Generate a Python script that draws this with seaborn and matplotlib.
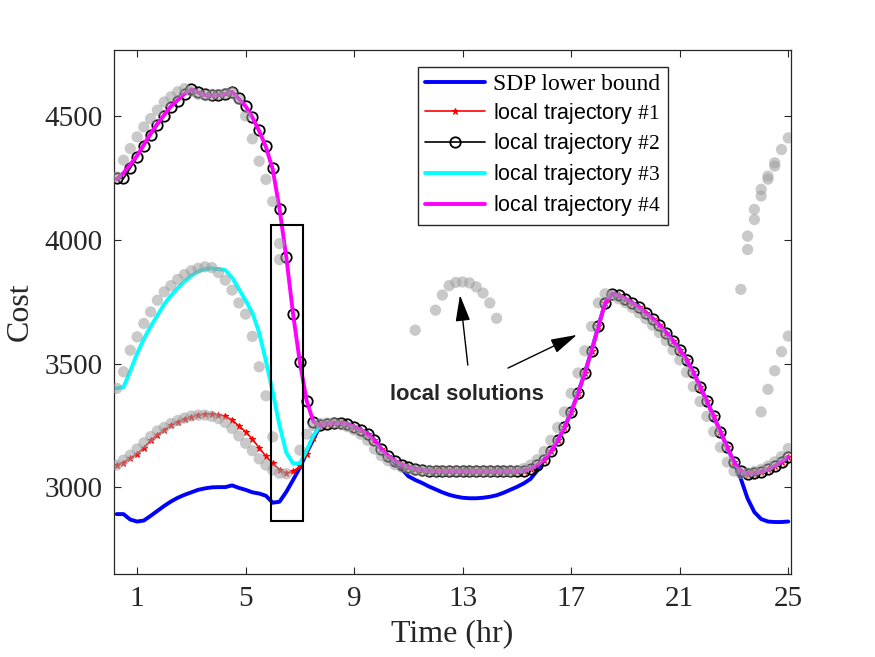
import numpy as np
import pandas as pd
import matplotlib
matplotlib.use("Agg")
import matplotlib.pyplot as plt
import seaborn as sns
from matplotlib.patches import Rectangle

# ---------------- data ----------------
time_hr = np.arange(1, 101) * 0.25          # 0.25 ... 25 hr

sdp_lower = [2892, 2892, 2870, 2862,  2866, 2885, 2905, 2925,  2943, 2958, 2970, 2980,
             2990, 2996, 3000, 3001,  3001, 3008, 2998, 2990,  2980, 2975, 2966, 2938,
             2942, 2982, 3030, 3080,  3140, 3195, 3250, 3258,  3260, 3260, 3255, 3245,
             3232, 3215, 3190, 3155,  3125, 3100, 3075, 3045,  3030, 3018, 3004, 2992,
             2980, 2970, 2963, 2958,  2956, 2956, 2958, 2962,  2968, 2978, 2990, 3002,
             3016, 3034, 3068, 3110,  3145, 3190, 3242, 3305,  3380, 3462, 3552, 3650,
             3745, 3782, 3776, 3762,  3746, 3727, 3705, 3681,  3655, 3625, 3592, 3555,
             3515, 3465, 3407, 3347,  3287, 3225, 3162, 3102,  3035, 2955, 2900, 2872,
             2862, 2860, 2860, 2862]

# shared part of all local trajectories (8.25 ... 25 hr)
common_tail = [3260, 3260, 3255, 3245,  3232, 3215, 3190, 3155,  3128, 3108, 3092, 3082,
               3075, 3070, 3067, 3066,  3065, 3065, 3065, 3065,  3065, 3065, 3065, 3065,
               3065, 3065, 3065, 3065,  3068, 3076, 3090, 3112,  3145, 3190, 3242, 3305,
               3380, 3462, 3552, 3650,  3745, 3782, 3776, 3762,  3746, 3727, 3705, 3681,
               3655, 3625, 3592, 3555,  3515, 3465, 3407, 3347,  3287, 3225, 3162, 3102,
               3066, 3056, 3058, 3064,  3073, 3086, 3103, 3124]

traj1_head = [3090, 3100, 3118, 3135,  3160, 3190, 3212, 3232,  3250, 3265, 3275, 3284,
              3292, 3295, 3295, 3293,  3288, 3272, 3248, 3225,  3195, 3160, 3125, 3097,
              3072, 3057, 3065, 3085,  3135, 3200, 3250, 3258]
traj2_head = [4248, 4248, 4290, 4335,  4378, 4422, 4462, 4500,  4535, 4562, 4588, 4610,
              4598, 4588, 4585, 4587,  4590, 4598, 4572, 4542,  4497, 4442, 4378, 4290,
              4125, 3930, 3700, 3505,  3350, 3265, 3250, 3258]
traj3_head = [3400, 3405, 3470, 3540,  3600, 3650, 3695, 3740,  3775, 3805, 3832, 3855,
              3873, 3882, 3885, 3882,  3878, 3848, 3802, 3755,  3705, 3625, 3510, 3385,
              3250, 3140, 3097, 3097,  3150, 3210, 3250, 3258]
traj4_head = [4245, 4270, 4305, 4340,  4385, 4430, 4470, 4505,  4540, 4565, 4590, 4608,
              4595, 4585, 4583, 4585,  4588, 4598, 4570, 4540,  4495, 4440, 4375, 4285,
              4125, 3930, 3700, 3505,  3350, 3265, 3250, 3258]

# local solutions (gray dots)
gray_high_v = [4254, 4322, 4369, 4416, 4456, 4490, 4524, 4557, 4578, 4598, 4611, 4600,
               4588, 4585, 4585, 4587, 4590, 4595, 4568, 4500, 4408, 4318, 4244, 4155,
               3985, 3920]
gray_high_t = list(time_hr[:24]) + [6.25, 6.25]
gray_cyan_v = [3400, 3467, 3554, 3608, 3662, 3709, 3756, 3790, 3815, 3840, 3860, 3875,
               3885, 3891, 3888, 3868, 3837, 3797, 3745, 3700, 3610, 3487, 3370, 3204]
gray_cyan_t = list(time_hr[:24])
gray_red_v = [3090, 3110, 3130, 3155, 3180, 3205, 3228, 3242, 3258, 3270, 3280, 3288,
              3292, 3292, 3287, 3278, 3262, 3238, 3208, 3178, 3148, 3115, 3090, 3070,
              3057, 3055]
gray_red_t = list(time_hr[:26])
gray_common_v = [3150, 3215, 3250, 3258,  3260, 3260, 3255, 3245,  3232, 3215, 3190, 3155,
                 3128, 3108, 3092, 3082,  3075, 3070, 3067, 3066,
                 3065, 3065, 3065, 3065, 3065, 3065, 3065, 3065, 3065, 3065, 3065, 3065,
                 3068, 3076, 3090, 3112,  3145, 3190, 3242, 3305,  3380, 3462, 3552, 3650,
                 3745, 3782, 3776, 3762,  3746, 3727, 3705, 3681,  3655, 3625, 3592, 3555,
                 3515, 3465, 3407, 3347,  3287, 3225, 3162, 3102,  3066, 3056, 3058, 3064,
                 3073, 3086, 3103, 3124,  3157]
gray_common_t = list(time_hr[27:])
gray_mid_t = [11.25, 12.0, 12.25, 12.5, 12.75, 13.0, 13.25, 13.5, 13.75, 14.0, 14.25]
gray_mid_v = [3635, 3716, 3777, 3815, 3828, 3830, 3826, 3810, 3785, 3745, 3683]
gray_right_t = [23.25, 23.5, 23.5, 23.75, 23.75, 24.0, 24.0, 24.25, 24.25, 24.5, 24.5, 24.75, 25.0,
                24.0, 24.25, 24.5, 24.75, 25.0]
gray_right_v = [3800, 4015, 3961, 4123, 4082, 4204, 4177, 4257, 4245, 4311, 4298, 4365, 4412,
                3305, 3396, 3471, 3548, 3611]

x_ticks = [1, 5, 9, 13, 17, 21, 25]
y_ticks = [3000, 3500, 4000, 4500]

# ---------------- style ----------------
sns.set_theme(style="white")
plt.rcParams["font.family"] = ["Liberation Serif", "DejaVu Serif"]
plt.rcParams["mathtext.fontset"] = "custom"
plt.rcParams["mathtext.rm"] = "Liberation Serif"
plt.rcParams["mathtext.it"] = "Liberation Serif:italic"

fig = plt.figure(figsize=(8.75, 6.57), dpi=100)
ax = fig.add_axes([114 / 875, 83 / 657, 677 / 875, 524 / 657])

traj1 = traj1_head + common_tail
traj2 = traj2_head + common_tail
traj3 = traj3_head + common_tail
traj4 = traj4_head + common_tail

df = pd.DataFrame({"t": time_hr, "sdp": sdp_lower, "t1": traj1, "t2": traj2,
                   "t3": traj3, "t4": traj4})

sns.lineplot(data=df, x="t", y="sdp", color="#0000ff", lw=2.8, ax=ax, zorder=2,
             estimator=None, sort=False)
sns.lineplot(data=df, x="t", y="t1", color="#ff0000", lw=1.2, marker="*", markersize=5,
             markeredgecolor="#ff0000", markerfacecolor="#ff0000", ax=ax, zorder=2.1,
             estimator=None, sort=False)
sns.lineplot(data=df, x="t", y="t2", color="black", lw=1.2, marker="o", markersize=7.5,
             markerfacecolor="none", markeredgecolor="black", markeredgewidth=1.3, ax=ax,
             zorder=2.2, estimator=None, sort=False)
sns.lineplot(data=df, x="t", y="t3", color="#00ffff", lw=2.8, ax=ax, zorder=2.3,
             estimator=None, sort=False)
sns.lineplot(data=df, x="t", y="t4", color="#ff00ff", lw=2.8, ax=ax, zorder=2.4,
             estimator=None, sort=False)

gray_t = gray_high_t + gray_cyan_t + gray_red_t + gray_common_t + gray_mid_t + gray_right_t
gray_v = gray_high_v + gray_cyan_v + gray_red_v + gray_common_v + gray_mid_v + gray_right_v
sns.scatterplot(x=gray_t, y=gray_v, color=(0.62, 0.62, 0.62), alpha=0.55, s=66,
                edgecolor="none", linewidth=0, ax=ax, zorder=3, legend=False)

# box around the transition
ax.add_patch(Rectangle((5.94, 2865), 1.17, 1194, fill=False, ec="black", lw=1.5, zorder=6))

# annotation
arrow_kw = dict(arrowstyle="-|>,head_length=0.9,head_width=0.25", color="black", lw=1.0,
                shrinkA=0, shrinkB=0, mutation_scale=18)
ax.annotate("", xy=(12.9, 3777), xytext=(13.19, 3494), arrowprops=arrow_kw, zorder=7)
ax.annotate("", xy=(17.21, 3616), xytext=(14.67, 3482), arrowprops=arrow_kw, zorder=7)
ax.text(13.15, 3377, "local solutions", ha="center", va="center", fontsize=15.8,
        fontweight="bold", family=["Liberation Sans", "DejaVu Sans"], zorder=7)

# axes
ax.set_xlim(0.15, 25.1)
ax.set_ylim(2650, 4767)
ax.set_xticks(x_ticks)
ax.set_yticks(y_ticks)
ax.set_xticklabels([str(v) for v in x_ticks])
ax.set_yticklabels([str(v) for v in y_ticks])
edge = "#262626"
for sp in ax.spines.values():
    sp.set_visible(True)
    sp.set_color(edge)
    sp.set_linewidth(0.9)
ax.tick_params(axis="both", direction="in", length=5, width=0.8, colors=edge,
               labelsize=21, top=True, right=True, bottom=True, left=True)
ax.tick_params(axis="x", pad=9)
ax.tick_params(axis="y", pad=8)
ax.set_xlabel("Time (hr)", fontsize=23, color=edge, labelpad=5)
ax.set_ylabel("Cost", fontsize=23, color=edge, labelpad=7)

# legend
handles = ax.get_lines()[:5]
labels = ["SDP lower bound",
          r"local trajectory $\mathrm{\#1}$",
          r"local trajectory $\mathrm{\#2}$",
          r"local trajectory $\mathrm{\#3}$",
          r"local trajectory $\mathrm{\#4}$"]
leg = ax.legend(handles, labels, loc="upper left", bbox_to_anchor=(0.449, 0.968),
                fontsize=15.5, frameon=True, fancybox=False, framealpha=1,
                edgecolor="#262626", handlelength=2.8, handletextpad=0.35,
                labelspacing=0.27, borderpad=0.33, borderaxespad=0)
leg.get_frame().set_linewidth(1.0)
for i, txt in enumerate(leg.get_texts()):
    if i == 0:
        txt.set_family(["Liberation Serif", "DejaVu Serif"])
        txt.set_fontsize(17)
    else:
        txt.set_family(["Liberation Sans", "DejaVu Sans"])
    txt.set_color("black")
leg.set_zorder(10)

fig.savefig("out.png", dpi=100, facecolor="white")
